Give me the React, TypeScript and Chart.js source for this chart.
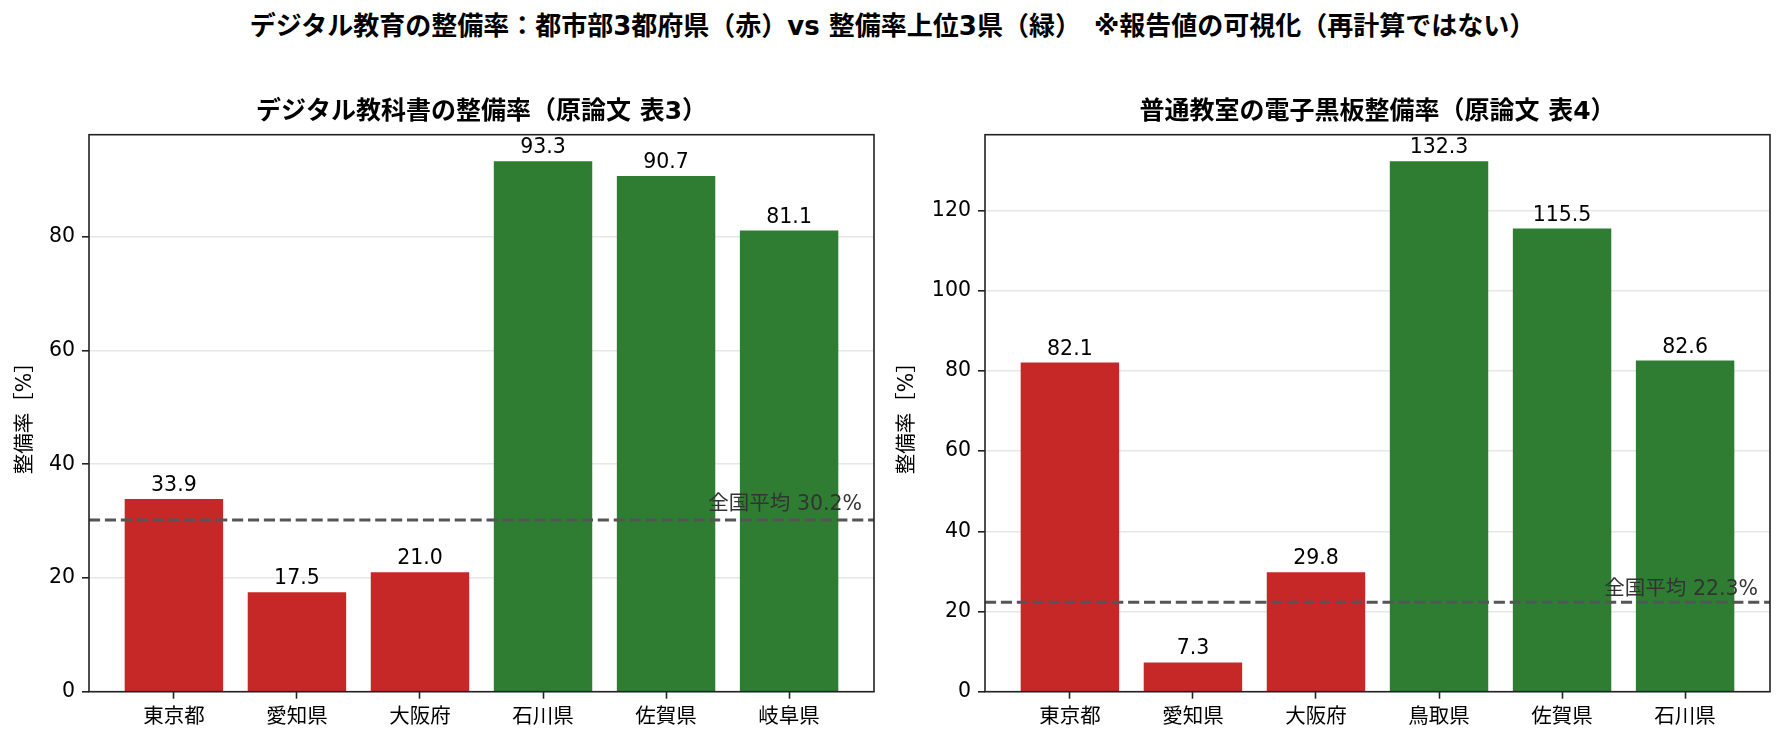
import React, { useEffect, useRef } from "react";
import { Chart, registerables } from "chart.js";

Chart.register(...registerables);

const FONT = '"DejaVu Sans", "Noto Sans CJK JP", "Noto Sans", sans-serif';

const SUPTITLE =
  "デジタル教育の整備率：都市部3都府県（赤）vs 整備率上位3県（緑）　※報告値の可視化（再計算ではない）";
const Y_LABEL = "整備率［%］";
const AVG_PREFIX = "全国平均";

const LEFT_TITLE = "デジタル教科書の整備率（原論文 表3）";
const LEFT_CATEGORIES = ["東京都", "愛知県", "大阪府", "石川県", "佐賀県", "岐阜県"];
const LEFT_VALUES = [33.9, 17.5, 21.0, 93.3, 90.7, 81.1];
const LEFT_AVG = 30.2;
const LEFT_Y_TICKS = [0, 20, 40, 60, 80];

const RIGHT_TITLE = "普通教室の電子黒板整備率（原論文 表4）";
const RIGHT_CATEGORIES = ["東京都", "愛知県", "大阪府", "鳥取県", "佐賀県", "石川県"];
const RIGHT_VALUES = [82.1, 7.3, 29.8, 132.3, 115.5, 82.6];
const RIGHT_AVG = 22.3;
const RIGHT_Y_TICKS = [0, 20, 40, 60, 80, 100, 120];

const GROUPS = ["urban", "urban", "urban", "top", "top", "top"];

const RED = "#c62828";
const GREEN = "#2e7d32";

const TEXT_SIZE = 20.5;

type PanelProps = {
  title: string;
  categories: string[];
  values: number[];
  avg: number;
  yTicks: number[];
  left: number;
  width: number;
  yAxisWidth: number;
  padRight: number;
  yTitlePad: number;
};

const FIG_H = 742;
const AX_TOP = 134.7;
const AX_BOTTOM = 691.7;

function Panel(p: PanelProps) {
  const ref = useRef<HTMLCanvasElement | null>(null);
  useEffect(() => {
    const canvas = ref.current;
    if (!canvas) return;
    const n = p.categories.length;
    const span = n - 0.2;
    const xMin = -0.4 - 0.05 * span;
    const xMax = n - 0.6 + 0.05 * span;
    const yMax = Math.max(...p.values) * 1.05;

    const overlay = {
      id: "overlay",
      afterDraw(chart: any) {
        const { ctx, chartArea: a, scales } = chart;
        const y = scales.y;
        ctx.save();
        // average line
        const ya = y.getPixelForValue(p.avg);
        ctx.strokeStyle = "#555555";
        ctx.lineWidth = 3;
        ctx.setLineDash([11.1, 4.8]);
        ctx.beginPath();
        ctx.moveTo(a.left, ya);
        ctx.lineTo(a.right, ya);
        ctx.stroke();
        ctx.setLineDash([]);
        // average label
        ctx.font = `${TEXT_SIZE}px ${FONT}`;
        ctx.fillStyle = "#333333";
        ctx.textAlign = "right";
        ctx.textBaseline = "alphabetic";
        ctx.fillText(
          `${AVG_PREFIX} ${p.avg.toFixed(1)}%`,
          a.right - 12,
          y.getPixelForValue(p.avg + 1.8)
        );
        // bar labels
        const meta = chart.getDatasetMeta(0);
        ctx.fillStyle = "#000000";
        ctx.textAlign = "center";
        meta.data.forEach((bar: any, i: number) => {
          ctx.fillText(p.values[i].toFixed(1), bar.x, bar.y - 8);
        });
        // subplot title
        ctx.font = `bold 25px ${FONT}`;
        ctx.textBaseline = "middle";
        ctx.fillText(p.title, (a.left + a.right) / 2, a.top - 22);
        // frame
        ctx.strokeStyle = "#222222";
        ctx.lineWidth = 1.6;
        ctx.strokeRect(a.left, a.top, a.right - a.left, a.bottom - a.top);
        ctx.restore();
      },
    };

    const chart = new Chart(canvas, {
      type: "bar",
      data: {
        datasets: [
          {
            data: p.values.map((v, i) => ({ x: i, y: v })),
            backgroundColor: GROUPS.map((g) => (g === "urban" ? RED : GREEN)),
            borderWidth: 0,
            barPercentage: 0.8,
            categoryPercentage: 1,
          } as any,
        ],
      },
      options: {
        responsive: false,
        animation: false,
        events: [],
        layout: { padding: { top: AX_TOP, right: p.padRight, bottom: 0, left: 0 } },
        plugins: {
          legend: { display: false },
          tooltip: { enabled: false },
          title: { display: false },
        },
        scales: {
          x: {
            type: "linear",
            min: xMin,
            max: xMax,
            offset: false,
            afterBuildTicks: (s: any) => {
              s.ticks = p.categories.map((_, i) => ({ value: i }));
            },
            afterFit: (s: any) => {
              s.height = FIG_H - AX_BOTTOM;
            },
            grid: {
              display: true,
              drawOnChartArea: false,
              offset: false,
              tickColor: "#222222",
              tickWidth: 1.6,
              tickLength: 7,
            },
            border: { display: false },
            ticks: {
              callback: (v: any) => p.categories[v] ?? "",
              color: "#000000",
              font: { family: FONT, size: TEXT_SIZE },
              padding: 7,
              maxRotation: 0,
              autoSkip: false,
            },
          } as any,
          y: {
            type: "linear",
            min: 0,
            max: yMax,
            z: 1,
            afterBuildTicks: (s: any) => {
              s.ticks = p.yTicks.map((v) => ({ value: v }));
            },
            afterFit: (s: any) => {
              s.width = p.yAxisWidth;
            },
            grid: {
              color: "rgba(176,176,176,0.3)",
              lineWidth: 1.6,
              tickColor: "#222222",
              tickWidth: 1.6,
              tickLength: 7,
            },
            border: { display: false },
            ticks: {
              color: "#000000",
              font: { family: FONT, size: TEXT_SIZE },
              padding: 7,
              callback: (v: any) => String(v),
            },
            title: {
              display: true,
              text: Y_LABEL,
              color: "#000000",
              font: { family: FONT, size: TEXT_SIZE },
              padding: { top: p.yTitlePad, bottom: 0 },
            },
          } as any,
        },
      },
      plugins: [overlay],
    });
    return () => chart.destroy();
  }, []);
  return (
    <canvas
      ref={ref}
      width={p.width}
      height={FIG_H}
      style={{ position: "absolute", left: p.left, top: 0, width: p.width, height: FIG_H }}
    />
  );
}

export default function App() {
  return (
    <div
      style={{
        position: "absolute",
        left: 0,
        top: 0,
        width: 1785,
        height: FIG_H,
        background: "#ffffff",
        overflow: "hidden",
      }}
    >
      <div
        style={{
          position: "absolute",
          left: 0,
          top: 0,
          width: 1785,
          textAlign: "center",
          fontFamily: FONT,
          fontWeight: "bold",
          fontSize: 26,
          lineHeight: "53px",
          whiteSpace: "pre",
          color: "#000000",
        }}
      >
        {SUPTITLE}
      </div>
      <Panel
        title={LEFT_TITLE}
        categories={LEFT_CATEGORIES}
        values={LEFT_VALUES}
        avg={LEFT_AVG}
        yTicks={LEFT_Y_TICKS}
        left={0}
        width={930}
        yAxisWidth={89}
        padRight={56}
        yTitlePad={13}
      />
      <Panel
        title={RIGHT_TITLE}
        categories={RIGHT_CATEGORIES}
        values={RIGHT_VALUES}
        avg={RIGHT_AVG}
        yTicks={RIGHT_Y_TICKS}
        left={880}
        width={905}
        yAxisWidth={105}
        padRight={15}
        yTitlePad={15}
      />
    </div>
  );
}
